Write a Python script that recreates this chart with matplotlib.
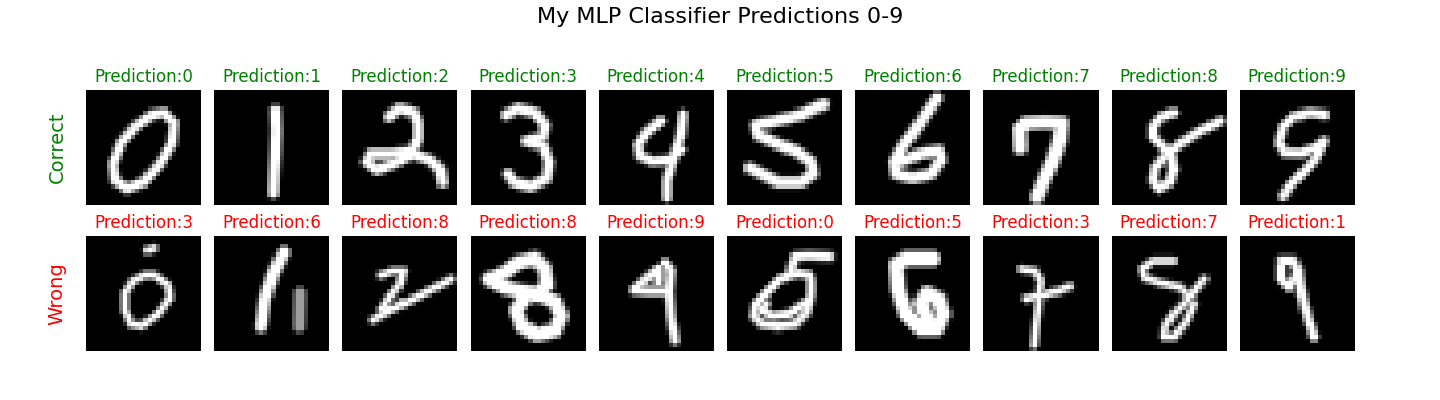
import numpy as np
import matplotlib
matplotlib.use("Agg")
import matplotlib.pyplot as plt

# ---- data -------------------------------------------------------------
title = "My MLP Classifier Predictions 0-9"
digits = list(range(10))
correct_preds = [0, 1, 2, 3, 4, 5, 6, 7, 8, 9]
wrong_preds = [3, 6, 8, 8, 9, 0, 5, 3, 7, 1]
row_labels = ["Correct", "Wrong"]
row_colors = ["green", "red"]

# handwritten strokes, in 28x28 pixel coords (x, y)
correct_strokes = [
    [[(19, 5.5), (21.5, 8), (21, 13), (18, 18), (14, 22.5), (10, 24), (7, 22),
      (6.5, 18), (8.5, 13), (12, 9), (16, 6), (19, 5.5)]],
    [[(15, 5), (15.2, 10), (15, 15), (14.7, 20), (14.5, 25)]],
    [[(11.5, 6.5), (14, 4.5), (17.5, 5.5), (18.5, 8), (18.5, 12), (17, 15), (12, 15.5),
      (7, 15.5), (6, 17.5), (8.5, 19.5), (12.5, 18), (17, 15.5), (21.5, 17), (24, 19.5),
      (24.5, 22.5)]],
    [[(8.5, 6), (11.5, 4.5), (15.5, 5.5), (18, 8.5), (17.5, 11.5), (13.5, 12.5),
      (17.5, 13.5), (19, 17.5), (18.5, 21.5), (14.5, 23.5), (10.5, 22.5), (9, 20.5)]],
    [[(15, 7.5), (11.5, 10.5), (9.5, 13.5), (10, 16), (13, 17.3), (17, 17), (20, 14.5)],
     [(20.5, 6), (20, 11), (18, 17), (16.5, 22), (16.5, 26)]],
    [[(23.5, 3.5), (18, 6), (12, 7.5), (7, 8.5), (7.5, 11), (12, 13), (17, 15),
      (20.5, 17.5), (21, 20.5), (18, 22.5), (12.5, 22.5), (8.5, 20.5), (5.5, 19)]],
    [[(20, 2), (17.5, 5.5), (14.5, 10), (11.5, 14), (9.5, 17.5), (10, 20.5), (14, 21.5),
      (18.5, 20.5), (21, 17), (20.5, 14.8), (16, 15.5), (11, 17.5)]],
    [[(9, 14), (8.8, 9.5), (10.5, 8), (15, 7.8), (19, 8), (18.5, 12.5), (16.5, 18),
      (14.5, 22.5), (13, 26)]],
    [[(15, 5.5), (12, 6.5), (10, 9), (10, 11.5), (12.5, 13.8), (14.5, 16), (15, 19.5),
      (14, 22.5), (11.5, 24), (10, 22), (10.5, 19), (12.5, 16.5), (16, 13.5),
      (21, 10.3), (26.3, 7.5)]],
    [[(20.8, 6), (17, 5.5), (13, 6.5), (10.5, 9), (9.5, 13), (11, 15.2), (15, 15.3),
      (18.5, 14), (20.5, 12.5)],
     [(20.5, 12.5), (18.5, 16.5), (15.5, 20), (12.5, 23), (10.5, 25.8)]],
]
correct_widths = [2.4, 2.5, 2.6, 2.6, 2.4, 2.8, 2.8, 3.4, 2.3, 2.3]

wrong_strokes = [
    [[(15, 3.5), (16.5, 3)],
     [(16.5, 9.5), (20, 12), (20.5, 15), (17.5, 19), (13.5, 22), (11, 21.5), (9.5, 18),
      (9.5, 14), (11.5, 11), (14.5, 9.5), (16.5, 9.5)]],
    [[(17, 4), (14.5, 9), (12.5, 15), (11.5, 22)],
     [(21, 14), (20.8, 22)]],
    [[(9.5, 9.5), (12.5, 8.5), (15, 8.5), (14, 12), (11.5, 15), (9.5, 18)],
     [(7.5, 20.5), (12, 18), (18, 15), (23, 12.5), (26.5, 10.5)],
     [(9.5, 18), (13, 17.5), (15, 16)]],
    [[(4.5, 10.5), (8, 9), (11.5, 6.5), (15.5, 5.5), (18, 8), (18.5, 12), (16, 14),
      (12, 13.5), (8, 12.5), (5, 11)],
     [(12, 14), (17, 14.5), (20.5, 16), (22, 19.5), (20.5, 23), (16, 24), (12.5, 22),
      (11, 18), (13, 15.5)]],
    [[(16, 6.5), (17.5, 8.5), (17, 13.5), (17.5, 19.5), (18.5, 25.3)],
     [(14.5, 8), (11.5, 10.5), (8.5, 13.2), (12, 13.5), (16.5, 13.5)],
     [(14.5, 8), (14.5, 11)]],
    [[(25, 5), (20, 4.8), (16.5, 5)],
     [(16.5, 5), (15.5, 8.5)],
     [(20, 9.5), (17, 9), (13, 10.5), (10, 13.5), (7, 16.5), (6.5, 19.5), (8.5, 21.5),
      (12.5, 22), (16.5, 21.5), (19.5, 18.5), (20.5, 14), (20.5, 11), (20, 9.5)],
     [(19.5, 16), (15, 19), (11, 19.5), (8.5, 18), (9.5, 16.5)]],
    [[(19, 5.5), (12.5, 5.5), (10, 7)],
     [(10, 7), (10.5, 13), (12.5, 19), (16, 22.5), (20, 22.5), (21.5, 19), (20.5, 15.5),
      (17.5, 14), (16, 16.5), (17.5, 20)]],
    [[(9.3, 8), (12.5, 8.5), (14, 11), (13.5, 15), (13, 20), (12.3, 26.5)],
     [(10.5, 15.2), (14, 14.5), (18, 13.5), (21, 12.3)]],
    [[(15, 6), (10, 6), (7.3, 8), (8, 10.2), (12, 11.5), (16.5, 12.5), (18.5, 14.5)],
     [(22.5, 10.5), (20.5, 13), (18, 16), (15, 19), (13, 22), (12.8, 24.5), (15, 24.5),
      (18, 21), (20, 16.5)]],
    [[(10, 6), (13, 6), (14.3, 9), (12, 12.5), (10, 10.5), (10, 7.5)],
     [(14, 8), (15, 14), (16.5, 20), (18, 24.5)]],
]
wrong_widths = [1.9, 3.0, 1.9, 3.5, 2.3, 2.2, 3.7, 1.9, 1.9, 2.3]
# per-stroke brightness (the faint second stroke of the "1")
wrong_intensity = [[1, 1], [1, 0.62], [1, 1, 1], [1, 1], [1, 1, 1], [1, 1, 1, 1],
                   [1, 1], [1, 1], [1, 1], [1, 1]]


def seg_dist(px, py, ax, ay, bx, by):
    dx, dy = bx - ax, by - ay
    L = dx * dx + dy * dy
    if L == 0:
        return np.hypot(px - ax, py - ay)
    t = np.clip(((px - ax) * dx + (py - ay) * dy) / L, 0, 1)
    return np.hypot(px - (ax + t * dx), py - (ay + t * dy))


def render(strokes, width, intens=None):
    yy, xx = np.mgrid[0:28, 0:28] + 0.5
    img = np.zeros((28, 28))
    for k, s in enumerate(strokes):
        d = np.full((28, 28), np.inf)
        for (ax_, ay_), (bx_, by_) in zip(s[:-1], s[1:]):
            d = np.minimum(d, seg_dist(xx, yy, ax_, ay_, bx_, by_))
        v = np.clip((width / 2 - d) / 1.3 + 0.5, 0, 1)
        if intens is not None:
            v = v * intens[k]
        img = np.maximum(img, v)
    return img


# ---- figure -----------------------------------------------------------
fig = plt.figure(figsize=(14.4, 4), dpi=100)
W, H = 1440, 400
col_left = 86
col_step = 128.2
size = 115
row_top = [90, 236]

for r in range(2):
    for c in range(10):
        x0 = (col_left + c * col_step) / W
        y0 = 1 - (row_top[r] + size) / H
        ax = fig.add_axes([x0, y0, size / W, size / H])
        if r == 0:
            img = render(correct_strokes[c], correct_widths[c])
            pred = correct_preds[c]
        else:
            img = render(wrong_strokes[c], wrong_widths[c], wrong_intensity[c])
            pred = wrong_preds[c]
        ax.imshow(img, cmap="gray", vmin=0, vmax=1, interpolation="nearest")
        ax.set_xticks([])
        ax.set_yticks([])
        for sp in ax.spines.values():
            sp.set_visible(False)
        ax.set_title(f"Prediction:{pred}", color=row_colors[r], fontsize=12)

for r in range(2):
    yc = 1 - (row_top[r] + size / 2) / H
    fig.text(57 / W, yc, row_labels[r], color=row_colors[r], fontsize=14,
             rotation=90, ha="center", va="center")

fig.text(0.5, 1 - 17 / H, title, fontsize=16, ha="center", va="center")

fig.savefig("out.png", dpi=100)
